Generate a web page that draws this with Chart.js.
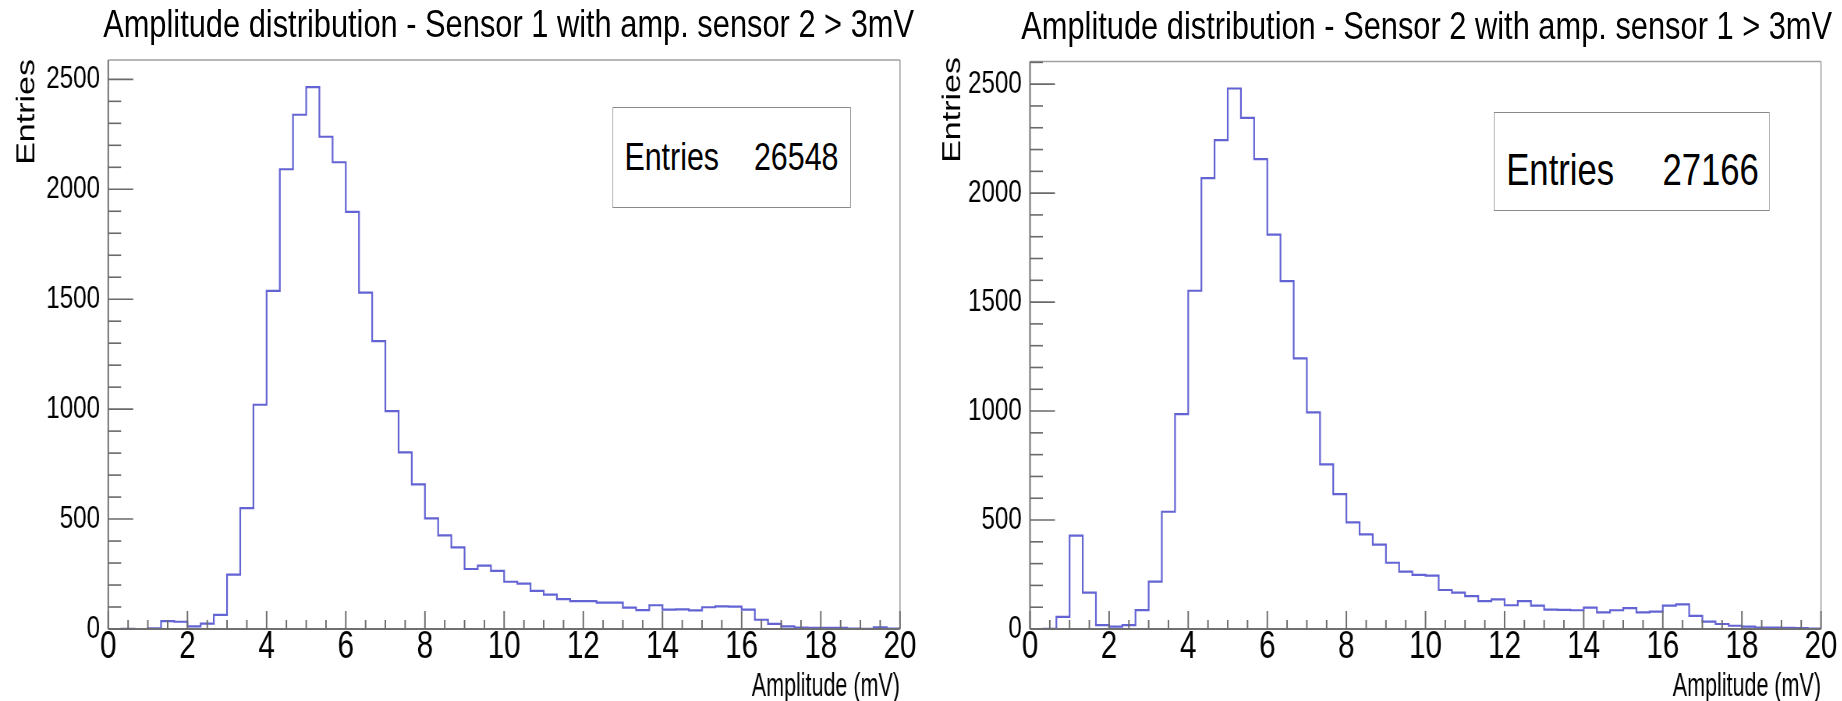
<!DOCTYPE html>
<html><head><meta charset="utf-8">
<script src="https://cdn.jsdelivr.net/npm/chart.js@4.4.1/dist/chart.umd.min.js"></script>
<style>
html,body{margin:0;padding:0;background:#fff;width:1842px;height:701px;overflow:hidden;}
#wrap{position:absolute;left:0;top:0;width:2362px;height:701px;transform:scaleX(0.78);transform-origin:0 0;}
canvas{position:absolute;top:0;}
.ttl{position:absolute;width:1400px;text-align:center;white-space:nowrap;font-family:'Liberation Sans',Arial,sans-serif;font-size:39.5px;line-height:39.5px;color:#000;}
.stats{position:absolute;border:1.5px solid #8a8a8a;background:#fff;box-sizing:border-box;font-family:'Liberation Sans',Arial,sans-serif;color:#000;}
.stats span{position:absolute;white-space:nowrap;}
</style></head>
<body><div id="wrap">
<canvas id="c1" width="1180" height="701" style="left:0"></canvas>
<canvas id="c2" width="1182" height="701" style="left:1180px"></canvas>
<div class="ttl" id="t1" style="left:-48px;top:3.7px;"></div>
<div class="ttl" id="t2" style="left:1129px;top:5.7px;"></div>
<div class="stats" style="left:785px;top:107px;width:306px;height:101px;">
  <span id="k1" style="left:14.5px;top:28.5px;font-size:39px;line-height:39px;"></span>
  <span id="v1" style="right:15px;top:28.5px;font-size:39px;line-height:39px;"></span>
</div>
<div class="stats" style="left:1915px;top:112px;width:354px;height:99px;">
  <span id="k2" style="left:15px;top:34.8px;font-size:44.5px;line-height:44.5px;"></span>
  <span id="v2" style="right:13px;top:34.8px;font-size:44.5px;line-height:44.5px;"></span>
</div>
</div>
<script>
// ---- data ----
const binLow = 0, binHigh = 20, nBins = 60;
const title1 = 'Amplitude distribution - Sensor 1 with amp. sensor 2 > 3mV';
const title2 = 'Amplitude distribution - Sensor 2 with amp. sensor 1 > 3mV';
const xTitle = 'Amplitude (mV)';
const yTitle = 'Entries';
const statsLabel = 'Entries';
const entries1 = 26548;
const entries2 = 27166;
const counts1 = [0,1,0,3,36,33,12,24,64,247,550,1020,
  1538,2091,2339,2465,2239,2123,1897,1530,1309,
  991,803,658,503,426,371,273,288,264,
  215,206,173,156,136,127,127,120,120,97,86,108,88,89,85,99,103,102,88,42,23,12,6,5,5,5,2,1,8,2];
const counts2 = [0,1,56,428,167,18,11,18,87,217,538,986,
  1552,2069,2243,2480,2345,2156,1810,1596,1242,
  994,755,619,489,434,387,304,263,248,
  245,179,167,151,128,136,109,128,107,89,88,86,98,76,86,96,76,80,107,113,60,34,23,15,11,6,6,5,4,2];
const yMax1 = 2588, yMax2 = 2604;
const yStep = 100, yMajor = 500;
const xStep = 0.5, xMajor = 2;

document.getElementById('t1').textContent = title1;
document.getElementById('t2').textContent = title2;
document.getElementById('k1').textContent = statsLabel;
document.getElementById('v1').textContent = String(entries1);
document.getElementById('k2').textContent = statsLabel;
document.getElementById('v2').textContent = String(entries2);

const FONT = "'Liberation Sans', Arial, Helvetica, sans-serif";
const binWidth = (binHigh - binLow) / nBins;
function toSteps(counts){
  const pts = [];
  for (let i = 0; i < counts.length; i++) pts.push({x: binLow + i*binWidth, y: counts[i]});
  pts.push({x: binHigh, y: counts[counts.length-1]});
  return pts;
}

const rootAxes = {
  id: 'rootAxes',
  afterDatasetsDraw(chart, args, opts){
    const {ctx, chartArea:a, scales:{x, y}} = chart;
    const line = (x1,y1,x2,y2)=>{ctx.beginPath();ctx.moveTo(x1,y1);ctx.lineTo(x2,y2);ctx.stroke();};
    ctx.save();
    ctx.strokeStyle = '#a0a0a0'; ctx.lineWidth = 1.6;
    line(a.left, a.top, a.right, a.top);
    line(a.right, a.top, a.right, a.bottom);
    ctx.strokeStyle = '#707070'; ctx.lineWidth = 2;
    line(a.left, a.top, a.left, a.bottom);
    line(a.left, a.bottom, a.right, a.bottom);
    ctx.strokeStyle = '#6a6a6a'; ctx.lineWidth = 1.6;
    y.ticks.forEach(t => {
      const py = y.getPixelForValue(t.value);
      const len = (Math.round(t.value) % yMajor === 0) ? 32 : 16.5;
      line(a.left, py, a.left + len, py);
    });
    ctx.lineWidth = 1.9;
    x.ticks.forEach(t => {
      const px = x.getPixelForValue(t.value);
      const major = Math.abs(t.value / xMajor - Math.round(t.value / xMajor)) < 1e-6;
      line(px, a.bottom, px, a.bottom - (major ? 18 : 9));
    });
    // axis titles (ROOT style: right/top aligned)
    ctx.fillStyle = '#000';
    ctx.font = '34px ' + FONT;
    ctx.textAlign = 'right'; ctx.textBaseline = 'middle';
    ctx.fillText(opts.xText, a.right, 687, 190);
    ctx.save();
    ctx.translate(opts.yTitleX, opts.yTitleTop);
    ctx.rotate(-Math.PI / 2);
    ctx.font = '34px ' + FONT;
    ctx.textAlign = 'right'; ctx.textBaseline = 'middle';
    ctx.fillText(opts.yText, 0, 0);
    ctx.restore();
    ctx.restore();
  }
};

function makeChart(id, counts, yMax, padTop, yWidth, padRight, yTitleX, yTitleTop){
  return new Chart(document.getElementById(id), {
    type: 'line',
    data: { datasets: [{
      data: toSteps(counts),
      stepped: 'before',
      borderColor: 'rgba(72,72,205,0.85)',
      borderWidth: 2.2,
      pointRadius: 0,
      fill: false,
      tension: 0
    }]},
    options: {
      responsive: false,
      animation: false,
      events: [],
      devicePixelRatio: 1,
      layout: { padding: { left: 0, right: padRight, top: padTop, bottom: 0 } },
      plugins: {
        legend: { display: false },
        tooltip: { enabled: false },
        title: { display: false },
        rootAxes: { xText: xTitle, yText: yTitle, yTitleX: yTitleX, yTitleTop: yTitleTop }
      },
      scales: {
        x: {
          type: 'linear', min: binLow, max: binHigh,
          grid: { display: false, drawTicks: false },
          border: { display: false },
          ticks: {
            stepSize: xStep, autoSkip: false, maxRotation: 0, includeBounds: false,
            color: '#000', padding: 0,
            font: { family: FONT, size: 38, lineHeight: 1 },
            callback: v => (Math.abs(v / xMajor - Math.round(v / xMajor)) < 1e-6) ? String(v) : ''
          },
          afterFit: s => { s.height = 72; }
        },
        y: {
          type: 'linear', min: 0, max: yMax,
          grid: { display: false, drawTicks: false },
          border: { display: false },
          ticks: {
            autoSkip: false, includeBounds: false,
            color: '#000', padding: 10.5,
            font: { family: FONT, size: 31, lineHeight: 1 },
            callback: v => (Math.round(v) % yMajor === 0) ? String(Math.round(v)) : ''
          },
          afterBuildTicks: s => {
            const t = [];
            for (let i = 0; i * yStep <= yMax; i++) t.push({ value: i * yStep });
            s.ticks = t;
          },
          afterFit: s => { s.width = yWidth; }
        }
      }
    },
    plugins: [rootAxes]
  });
}

makeChart('c1', counts1, yMax1, 60, 138.8, 26.2, 34.6, 59);
makeChart('c2', counts2, yMax2, 61.5, 140.5, 27.4, 41.4, 57);
</script>
</body></html>
